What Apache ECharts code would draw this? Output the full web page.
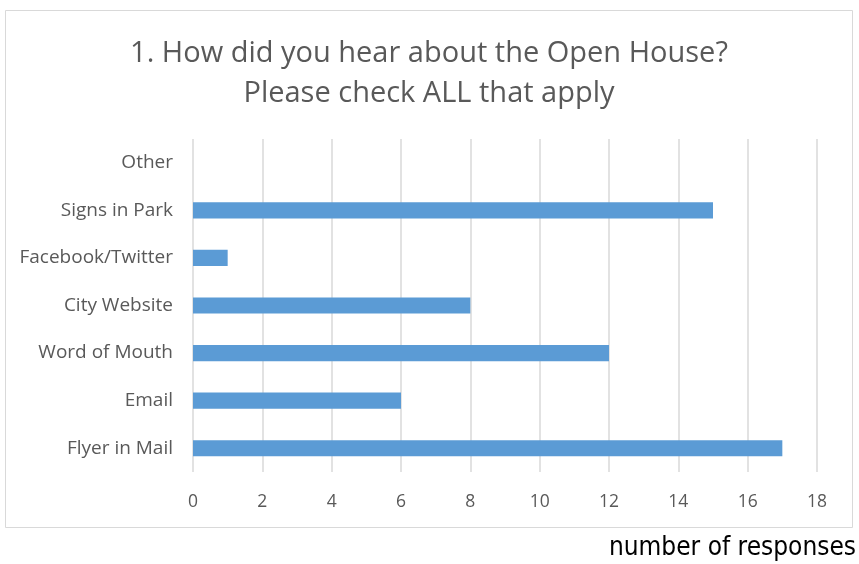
<!DOCTYPE html>
<html><head><meta charset="utf-8">
<script src="https://cdn.jsdelivr.net/npm/echarts@6/dist/echarts.min.js"></script>
<style>html,body{margin:0;padding:0;background:#fff}#c{width:859px;height:564px}</style>
</head><body><div id="c"></div>
<script>
const categories = ["Flyer in Mail","Email","Word of Mouth","City Website","Facebook/Twitter","Signs in Park","Other"];
const responses = [17, 6, 12, 8, 1, 15, 0];
const titleLines = ["1. How did you hear about the Open House?", "Please check ALL that apply"];
const axisNote = "number of responses";

const chart = echarts.init(document.getElementById('c'), null, {renderer:'canvas'});
chart.setOption({
  backgroundColor:'#fff',
  animation:false,
  title:{
    text: titleLines.join('\n'),
    left: 424, top: 29, textAlign:'center',
    textStyle:{fontFamily:'Open Sans', fontSize:29, fontWeight:'normal', color:'#595959', lineHeight:40}
  },
  graphic:[
    {type:'rect', shape:{x:5.5,y:10.5,width:847,height:517}, style:{fill:'none', stroke:'#d9d9d9', lineWidth:1}, z:-1},
    {type:'text', right:3, top:535, style:{text:axisNote, fontFamily:'"DejaVu Sans Condensed", "Liberation Sans Narrow", sans-serif', fontSize:26, fill:'#000'}}
  ],
  grid:{left:193, right:42, top:139, height:333, containLabel:false},
  xAxis:{
    type:'value', min:0, max:18, interval:2,
    axisLine:{show:false}, axisTick:{show:false},
    splitLine:{lineStyle:{color:'#d9d9d9', width:1.5}},
    axisLabel:{fontFamily:'Open Sans', fontSize:17.5, color:'#595959', margin:21}
  },
  yAxis:{
    type:'category', data:categories,
    axisLine:{show:false}, axisTick:{show:false},
    axisLabel:{fontFamily:'Open Sans', fontSize:19, color:'#595959', margin:20}
  },
  series:[{
    type:'bar', data:responses, barWidth:'34%',
    itemStyle:{color:'#5b9bd5'}
  }]
});
</script></body></html>
